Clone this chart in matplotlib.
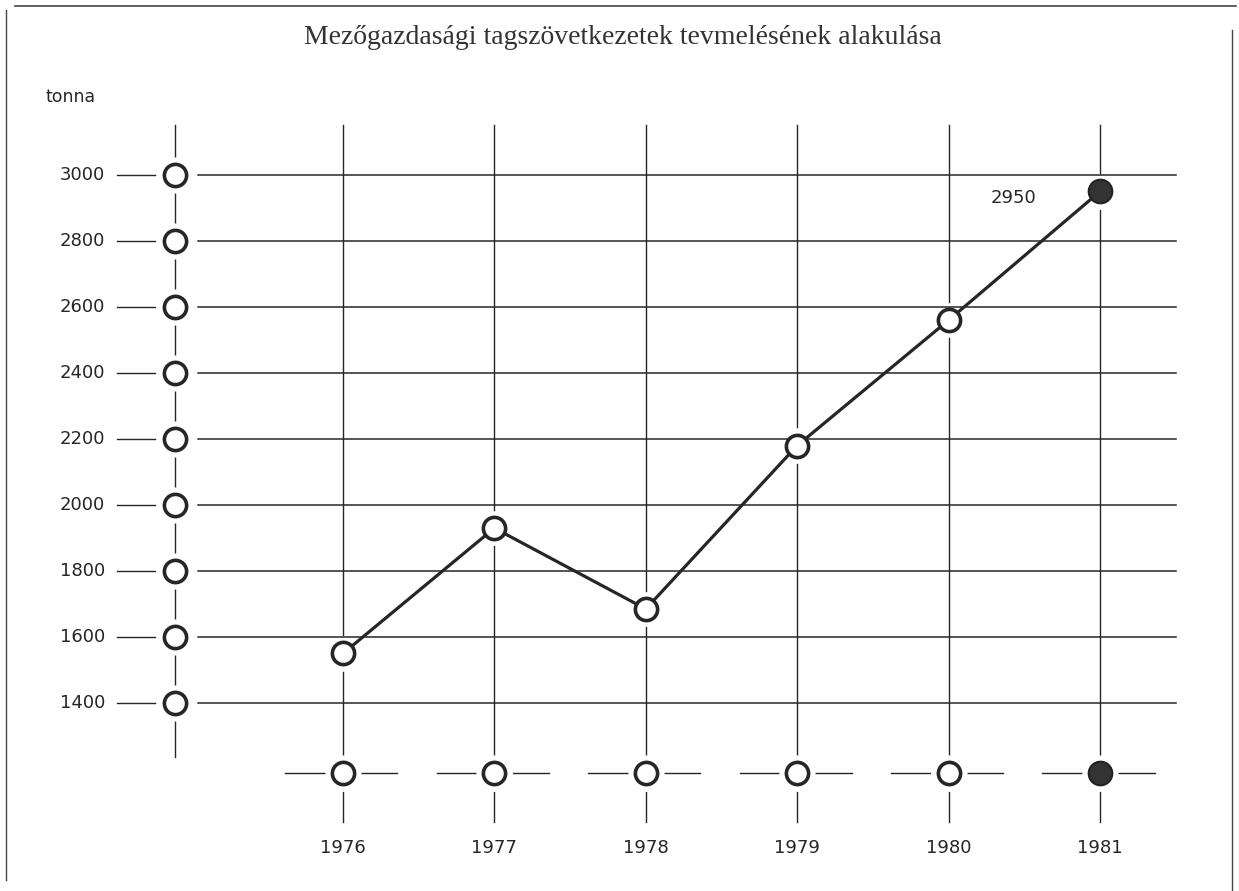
import matplotlib
matplotlib.use("Agg")
import matplotlib.pyplot as plt
from matplotlib.lines import Line2D

# data
years = [1976, 1977, 1978, 1979, 1980, 1981]
tonnes = [1550, 1930, 1685, 2180, 2560, 2950]
y_ticks = [1400, 1600, 1800, 2000, 2200, 2400, 2600, 2800, 3000]
title = "Mezőgazdasági tagszövetkezetek tevmelésének alakulása"
unit = "tonna"

ink = "#262626"
sans = ["DejaVu Sans"]

fig = plt.figure(figsize=(12.39, 8.91), dpi=100)
ax = fig.add_axes([0, 0, 1, 1])
ax.axis("off")
# axes span the whole figure so the scale matches the printed layout
ax.set_xlim(1973.735, 1981.918)
ax.set_ylim(830.3, 3530.3)

axis_x = 1974.89      # the left value axis
row_y = 1188          # the row of year circles
grid_top = 3151
gap = 55              # white gap above/below a data circle on the verticals

# horizontal grid lines and small dashes in front of the left circles
for v in y_ticks:
    ax.plot([1975.04, 1981.5], [v, v], color=ink, lw=1.1, zorder=1)
    ax.plot([1974.51, 1974.76], [v, v], color=ink, lw=1.0, zorder=1)
    ax.text(1974.43, v, f"{v}", ha="right", va="center", fontsize=13,
            family=sans, color=ink)

# left axis line
ax.plot([axis_x, axis_x], [1236, grid_top], color=ink, lw=1.0, zorder=1)

# vertical grid lines (broken round the data circle), year row, ticks, labels
for yr, t in zip(years, tonnes):
    ax.plot([yr, yr], [t + gap, grid_top], color=ink, lw=1.0, zorder=1)
    ax.plot([yr, yr], [row_y, t - gap], color=ink, lw=1.0, zorder=1)
    ax.plot([yr, yr], [1039, 1130], color=ink, lw=1.0, zorder=1)
    ax.plot([yr - 0.38, yr - 0.12], [row_y, row_y], color=ink, lw=1.0, zorder=1)
    ax.plot([yr + 0.12, yr + 0.36], [row_y, row_y], color=ink, lw=1.0, zorder=1)
    ax.text(yr, 961, str(yr), ha="center", va="center", fontsize=13,
            family=sans, color=ink)

# white halos leave small gaps round the axis and year-row circles
halo = dict(marker="o", ls="none", ms=26, mfc="white", mec="none", zorder=2)
ax.plot([axis_x] * len(y_ticks), y_ticks, **halo)
ax.plot(years, [row_y] * len(years), **halo)

# the data line
ax.plot(years, tonnes, color=ink, lw=2.3, zorder=3, solid_capstyle="round")

ring = dict(marker="o", ls="none", ms=16, mfc="white", mec=ink, mew=2.6, zorder=4)
ax.plot([axis_x] * len(y_ticks), y_ticks, **ring)
ax.plot(years[:-1], [row_y] * (len(years) - 1), **ring)
ax.plot(years[:-1], tonnes[:-1], **ring)

dot = dict(marker="o", ls="none", ms=17, mfc="#333333", mec="#222222", mew=1.5, zorder=4)
ax.plot(years[-1:], [row_y], **dot)
ax.plot(years[-1:], tonnes[-1:], **dot)

ax.text(1981 - 0.57, tonnes[-1] - 20, f"{tonnes[-1]}", ha="center", va="center",
        fontsize=13, family=sans, color=ink)

# title and unit
fig.text(623 / 1239, 1 - 37 / 891, title, ha="center", va="center",
         fontsize=20, family=["Liberation Serif", "DejaVu Serif"], color="#333333")
fig.text(45 / 1239, 1 - 97 / 891, unit, ha="left", va="center",
         fontsize=12.5, family=sans, color=ink)

# page frame
fig.add_artist(Line2D([15 / 1239, 1236 / 1239], [1 - 6 / 891, 1 - 6 / 891],
                      color="#444444", lw=1.2))
fig.add_artist(Line2D([6 / 1239, 6 / 1239], [1 - 10 / 891, 1 - 880 / 891],
                      color="#444444", lw=1.0))
fig.add_artist(Line2D([1232 / 1239, 1232 / 1239], [1 - 30 / 891, 0],
                      color="#444444", lw=1.0))

fig.savefig("out.png", dpi=100, facecolor="white")
